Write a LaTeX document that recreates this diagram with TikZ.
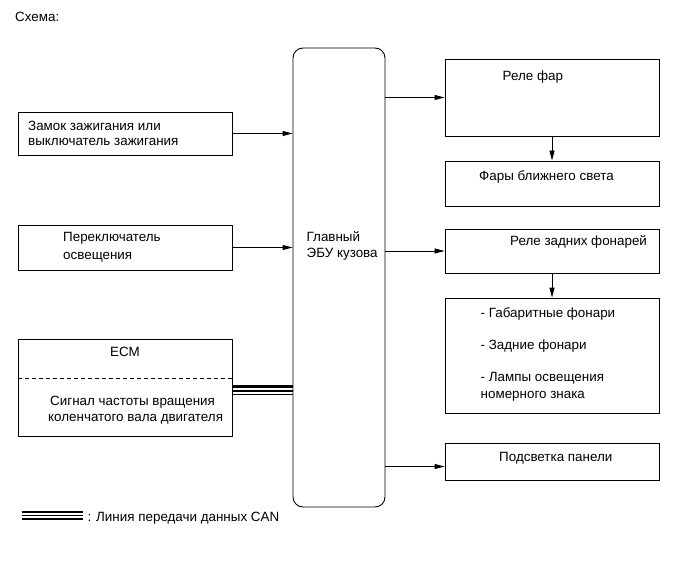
\documentclass[tikz,border=0pt]{standalone}
\usepackage{fontspec}
\setmainfont{Liberation Sans}
\usetikzlibrary{arrows.meta}
\begin{document}
\begin{tikzpicture}[x=1pt,y=-1pt,
  box/.style={draw, line width=0.9pt, inner sep=0pt},
  txt/.style={anchor=base west, inner sep=0pt, font=\fontsize{13.4}{15}\selectfont},
  arr/.style={line width=0.9pt, -{Triangle[length=10pt,width=5pt]}}]
\useasboundingbox (0,0) rectangle (691,564);
% title
\node[txt] (title) at (15,22) {Схема:};
% left boxes
\node[box, minimum width=214pt, minimum height=43pt] (b1) at (125,133.5) {};
\node[box, minimum width=214pt, minimum height=45pt] (b2) at (125,247.5) {};
\node[box, minimum width=214pt, minimum height=97pt] (ecm) at (125,387.5) {};
% ECU
\node[box, rounded corners=10pt, minimum width=92pt, minimum height=459pt] (ecu) at (339,277.5) {};
% right boxes
\node[box, minimum width=214pt, minimum height=77pt] (r1) at (552,97.5) {};
\node[box, minimum width=214pt, minimum height=45pt] (r2) at (552,183.5) {};
\node[box, minimum width=214pt, minimum height=44pt] (r3) at (552,251) {};
\node[box, minimum width=214pt, minimum height=115pt] (r4) at (552,355.5) {};
\node[box, minimum width=214pt, minimum height=37pt] (r5) at (552,461.5) {};
% texts
\node[txt] (t1a) at (28,131) {Замок зажигания или};
\node[txt] (t1b) at (28,146) {выключатель зажигания};
\node[txt] (t2a) at (63,242) {Переключатель};
\node[txt] (t2b) at (63,259) {освещения};
\node[txt, anchor=base] (tecm) at (125,356.5) {ECM};
\node[txt] (t3a) at (50,405) {Сигнал частоты вращения};
\node[txt] (t3b) at (48,421) {коленчатого вала двигателя};
\node[txt] (tecu1) at (306.5,241.5) {Главный};
\node[txt] (tecu2) at (306.5,257.5) {ЭБУ кузова};
\node[txt] (tr1) at (502.5,81) {Реле фар};
\node[txt] (tr2) at (479,181) {Фары ближнего света};
\node[txt] (tr3) at (510,245.3) {Реле задних фонарей};
\node[txt] (tr4a) at (480.5,317.3) {- Габаритные фонари};
\node[txt] (tr4b) at (480.5,349.7) {- Задние фонари};
\node[txt] (tr4c) at (480.5,381.3) {- Лампы освещения};
\node[txt] (tr4d) at (480.5,398.3) {номерного знака};
\node[txt] (tr5) at (499,461.7) {Подсветка панели};
% dashed separator in ECM
\draw[line width=0.9pt, dash pattern=on 4pt off 3pt] (ecm.west |- 0,378) -- (ecm.east |- 0,378);
% arrows
\draw[arr] (b1.east) -- (b1.east -| ecu.west);
\draw[arr] (b2.east) -- (b2.east -| ecu.west);
\draw[arr] (ecu.east |- r1.west) -- (r1.west);
\draw[arr] (ecu.east |- r3.west) -- (r3.west);
\draw[arr] (ecu.east |- 0,466.5) -- ([yshift=-5pt]r5.west);
\draw[arr] (r1.south) -- (r2.north);
\draw[arr] (r3.south) -- (r4.north);
% CAN line
\draw[line width=3pt] (ecm.east |- 0,386) -- (ecu.west |- 0,386);
\draw[line width=1.2pt] (ecm.east |- 0,391) -- (ecu.west |- 0,391);
\draw[line width=1.2pt] (ecm.east |- 0,394.5) -- (ecu.west |- 0,394.5);
% legend
\coordinate (la) at (21.7,0);
\coordinate (lb) at (83.3,0);
\draw[line width=2.5pt] (la |- 0,511.8) -- (lb |- 0,511.8);
\draw[line width=1pt] (la |- 0,515.4) -- (lb |- 0,515.4);
\draw[line width=1.6pt] (la |- 0,519) -- (lb |- 0,519);
\node[txt] (tleg) at (87.3,521) {: Линия передачи данных CAN};
\end{tikzpicture}
\end{document}
